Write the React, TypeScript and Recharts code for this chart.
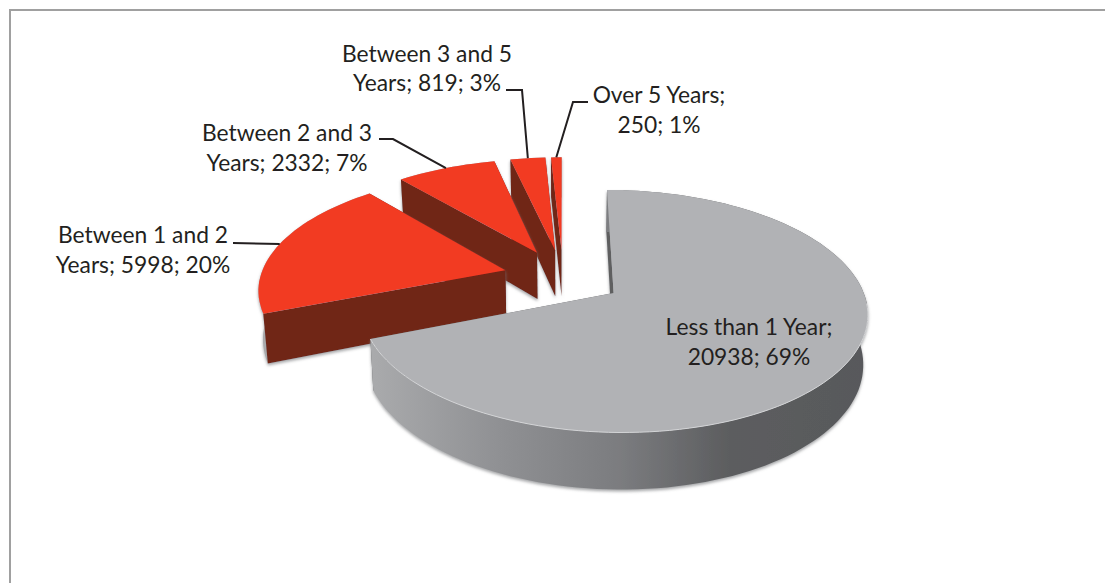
import { Pie, PieChart } from 'recharts';

const categories = ['Over 5 Years', 'Between 3 and 5 Years', 'Between 2 and 3 Years', 'Between 1 and 2 Years', 'Less than 1 Year'];
const counts = [250, 819, 2332, 5998, 20938];
const shares = ['1%', '3%', '7%', '20%', '69%'];

const data = categories.map((name, i) => ({ name, value: counts[i], share: shares[i] }));

// how the flat pie is tilted on the page
const EXPLODE = 60;
const TILT = 0.4645;
const PERSPECTIVE = 0.0006;
const DEPTH = 47.5;
const LEAN = 0.015;

const RED = '#f23a24';
const RED_DARK = '#6f2518';
const GRAY = '#b1b2b5';
const INK = '#231f20';

const rad = (deg: number) => (deg * Math.PI) / 180;

function toScreen(cx: number, cy: number, mid: number, angle: number, r: number) {
  const X = EXPLODE * Math.cos(rad(mid)) + r * Math.cos(rad(angle));
  const Y = EXPLODE * Math.sin(rad(mid)) + r * Math.sin(rad(angle));
  const d = 1 + PERSPECTIVE * Y;
  return { x: cx + X / d, y: cy - (TILT * Y) / d, d };
}

function arcPoints(cx: number, cy: number, mid: number, start: number, end: number, r: number) {
  const steps = Math.max(2, Math.ceil((end - start) / 2));
  return Array.from({ length: steps + 1 }, (_, i) =>
    toScreen(cx, cy, mid, start + ((end - start) * i) / steps, r),
  );
}

const linePath = (pts: { x: number; y: number }[]) =>
  pts.map((p, i) => `${i ? 'L' : 'M'}${p.x.toFixed(1)} ${p.y.toFixed(1)}`).join(' ');
const pathOf = (pts: { x: number; y: number }[]) => linePath(pts) + ' Z';

function SliceShape(props: any) {
  const { cx, cy, startAngle, endAngle, midAngle, outerRadius, payload } = props;
  const isGray = payload.name === 'Less than 1 Year';
  const drop = (p: { x: number; y: number; d: number }) => ({
    x: p.x - (p.x - cx) * LEAN,
    y: p.y + DEPTH / p.d,
    d: p.d,
  });
  const apex = toScreen(cx, cy, midAngle, 0, 0);
  const arc = arcPoints(cx, cy, midAngle, startAngle, endAngle, outerRadius);
  const first = arc[0];
  const last = arc[arc.length - 1];
  const wallFill = isGray ? '#5e5f61' : RED_DARK;
  const edgeWalls = (
    <>
      <path d={pathOf([first, apex, drop(apex), drop(first)])} fill={wallFill} />
      <path d={pathOf([last, apex, drop(apex), drop(last)])} fill={wallFill} />
    </>
  );
  const outerWall = (
    <path
      d={pathOf([...arc, ...arc.map(drop).reverse()])}
      fill={isGray ? 'url(#grayWall)' : '#a9aaac'}
    />
  );
  // only the near rim of the gray slice catches the light
  const nearRim = arcPoints(cx, cy, midAngle, Math.max(startAngle, 180), Math.min(endAngle, 355), outerRadius);
  return (
    <g filter="url(#softShadow)">
      {isGray ? edgeWalls : outerWall}
      {isGray ? outerWall : edgeWalls}
      <path d={pathOf([apex, ...arc])} fill={isGray ? GRAY : RED} />
      {isGray && <path d={linePath(nearRim)} fill="none" stroke="#d3d4d6" strokeWidth={1} />}
    </g>
  );
}

// text blocks and leader elbows, by slice
const labelLayout: Record<string, { x: number; y: number; lines: string[]; leader?: number[][] }> = {
  'Over 5 Years': { x: 659, y: 103, lines: ['Over 5 Years;', '250; 1%'], leader: [[588, 102], [573, 102]] },
  'Between 3 and 5 Years': { x: 427, y: 61.5, lines: ['Between 3 and 5', 'Years; 819; 3%'], leader: [[506, 90], [522, 90]] },
  'Between 2 and 3 Years': { x: 287, y: 141, lines: ['Between 2 and 3', 'Years; 2332; 7%'], leader: [[379, 139], [393, 139]] },
  'Between 1 and 2 Years': { x: 143, y: 243, lines: ['Between 1 and 2', 'Years; 5998; 20%'], leader: [[233, 243]] },
  'Less than 1 Year': { x: 749, y: 335, lines: ['Less than 1 Year;', '20938; 69%'] },
};

function SliceLabel(props: any) {
  const { cx, cy, midAngle, outerRadius, payload } = props;
  const layout = labelLayout[payload.name];
  const end = toScreen(cx, cy, midAngle, midAngle, outerRadius);
  return (
    <g>
      {layout.leader && (
        <polyline
          points={[...layout.leader, [end.x, end.y]].map((p) => p.join(',')).join(' ')}
          fill="none"
          stroke={INK}
          strokeWidth={2}
        />
      )}
      <text x={layout.x} y={layout.y} textAnchor="middle" fontFamily="Lato" fontSize={22.8} fill={INK}>
        {layout.lines.map((line, i) => (
          <tspan key={line} x={layout.x} dy={i ? 29.5 : 0}>
            {line}
          </tspan>
        ))}
      </text>
    </g>
  );
}

export default function App() {
  return (
    <div style={{ position: 'absolute', left: 0, top: 0, width: 1105, height: 583, background: '#fff', overflow: 'hidden' }}>
      <div
        style={{
          position: 'absolute',
          left: 9,
          top: 9,
          width: 1096,
          height: 574,
          borderLeft: '2px solid #a0a0a0',
          borderTop: '2px solid #a0a0a0',
          boxSizing: 'border-box',
        }}
      />
      <div style={{ position: 'absolute', left: 0, top: 0 }}>
        <PieChart width={1105} height={583} margin={{ top: 0, right: 0, bottom: 0, left: 0 }}>
          <defs>
            <linearGradient id="grayWall" gradientUnits="userSpaceOnUse" x1={373} y1={0} x2={868} y2={0}>
              <stop offset="0" stopColor="#a9aaac" />
              <stop offset="0.25" stopColor="#909194" />
              <stop offset="0.5" stopColor="#7b7c7f" />
              <stop offset="0.72" stopColor="#5c5d5f" />
              <stop offset="1" stopColor="#58595b" />
            </linearGradient>
            <filter id="softShadow" filterUnits="userSpaceOnUse" x={0} y={0} width={1105} height={583}>
              <feDropShadow dx={0} dy={2} stdDeviation={1.5} floodColor="#808285" floodOpacity={0.7} />
            </filter>
          </defs>
          <Pie
            data={data}
            dataKey="value"
            nameKey="name"
            cx={563}
            cy={277}
            outerRadius={245}
            startAngle={90}
            endAngle={450}
            stroke="none"
            shape={SliceShape}
            label={SliceLabel}
            labelLine={false}
            isAnimationActive={false}
          />
        </PieChart>
      </div>
    </div>
  );
}
